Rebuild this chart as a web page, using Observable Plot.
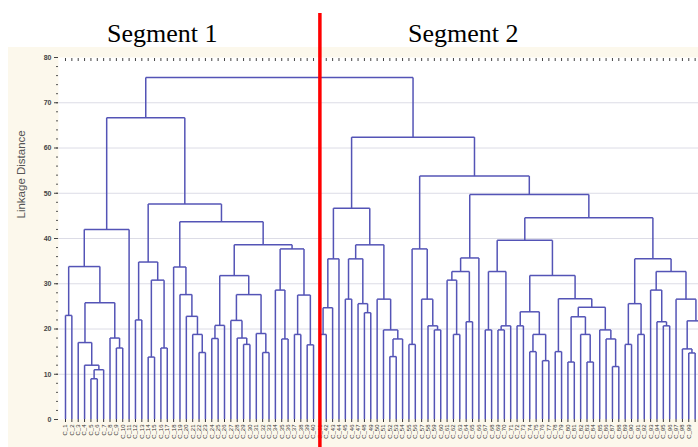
<!DOCTYPE html>
<html><head><meta charset="utf-8">
<script src="https://cdn.jsdelivr.net/npm/d3@7"></script>
<script src="https://cdn.jsdelivr.net/npm/@observablehq/plot@0.6"></script>
<style>
html,body{margin:0;padding:0;background:#fff;}
#wrap{position:relative;width:698px;height:447px;overflow:hidden;background:#fff;}
#cream{position:absolute;left:8px;top:47px;right:0;bottom:0;background:#fcf8ec;}
.seg{position:absolute;top:21px;font-family:"Liberation Serif","Times New Roman",serif;font-size:26px;color:#000;line-height:1;white-space:nowrap;}
#chart{position:absolute;left:0;top:0;}
</style></head>
<body>
<div id="wrap"><div id="cream"></div><div class="seg" id="s1" style="left:107px"></div><div class="seg" id="s2" style="left:408px"></div><div id="chart"></div></div>
<script>
// Segment titles
const segmentTitles = ["Segment 1", "Segment 2"];
const yLabel = "Linkage Distance";
const yTicks = [0, 10, 20, 30, 40, 50, 60, 70, 80];
const yMinorTicks = d3.range(0, 81, 2);

// Tree nodes: [linkage distance, left, right]; leaves are case numbers
const clusterA = [42, [33.8, [23, 1, 2], [25.8, [17, 3, [12, 4, [11, [9, 5, 6], 7]]], [18, 8, [15.8, 9, 10]]]], 11];
const clusterB = [34.8, [22, 12, 13], [30.8, [13.8, 14, 15], [15.8, 16, 17]]];
const clusterC = [33.7, 18, [27.6, 19, [22.8, 20, [18.8, 21, [14.8, 22, 23]]]]];
const clusterD = [31.8, [20.8, [17.9, 24, 25], 26], [27.6, [21.9, 27, [18, 28, [16.6, 29, 30]]], [19, 31, [14.8, 32, 33]]]];
const clusterE = [37.7, [28.6, 34, [17.8, 35, 36]], [27.5, [18.8, 37, 38], [16.5, 39, 40]]];
const clusterF = [35.5, [24.7, [18.8, 41, 42], 43], 44];
const clusterG = [35.5, [26.6, 45, 46], [25.6, 47, [23.6, 48, 49]]];
const clusterH = [26.6, 50, [19.8, 51, [17.8, [13.9, 52, 53], 54]]];
const clusterI = [37.7, [16.6, 55, 56], [26.6, 57, [20.7, 58, [19.8, 59, 60]]]];
const clusterJ = [35.7, [32.7, [30.8, 61, [18.8, 62, 63]], [21.6, 64, 65]], 66];
const clusterK = [32.7, [19.8, 67, 68], [20.7, [19.8, 69, 70], 71]];
const clusterL = [31.8, [23.8, [20.7, 72, 73], [18.8, [15, 74, 75], [13, 76, 77]]], [26.7, [15, 78, 79], [24.8, [22.7, [12.7, 80, 81], [18.8, 82, [12.7, 83, 84]]], [19.8, 85, [17.8, 86, [11.7, 87, 88]]]]]];
const clusterM = [35.5, [25.6, [16.6, 89, 90], [18.8, 91, 92]], [32.7, [28.6, 93, [21.6, 94, [20.7, 95, 96]]], [26.6, 97, [21.8, [15.6, 98, [14.7, 99, 100]], [18, 101, 102]]]]];

const segment1 = [66.7, clusterA, [47.6, clusterB, [43.7, clusterC, [38.6, clusterD, clusterE]]]];
const segment2 = [62.4, [46.7, clusterF, [38.6, clusterG, clusterH]], [53.8, clusterI, [49.7, clusterJ, [44.6, [39.6, clusterK, clusterL], clusterM]]]];
const root = [75.6, segment1, segment2];

document.getElementById("s1").textContent = segmentTitles[0];
document.getElementById("s2").textContent = segmentTitles[1];

// Layout the dendrogram: leaves in order, segments for each merge
const leaves = [];
const segs = [];
function layout(node) {
  if (!Array.isArray(node)) { const x = leaves.length; leaves.push(node); return {x, h: 0}; }
  const [h, a, b] = node;
  const A = layout(a), B = layout(b);
  segs.push({x1: A.x, y1: A.h, x2: A.x, y2: h});
  segs.push({x1: B.x, y1: B.h, x2: B.x, y2: h});
  segs.push({x1: A.x, y1: h, x2: B.x, y2: h});
  return {x: (A.x + B.x) / 2, h};
}
layout(root);
const seg1Count = (function count(n) { return Array.isArray(n) ? count(n[1]) + count(n[2]) : 1; })(segment1);
const xDomain = [-1.1, 99.53];
const leafIdx = leaves.map((d, i) => i).filter(i => i <= xDomain[1]);
const labelIdx = leafIdx.filter(i => i <= 98);
const leafLabel = i => "C_" + leaves[i];

const lineColor = "#5454b6";
const plot = Plot.plot({
  width: 698, height: 447,
  marginLeft: 58, marginRight: 0, marginTop: 57, marginBottom: 28,
  style: {background: "transparent", overflow: "visible", fontFamily: "Liberation Sans, Arial, sans-serif"},
  x: {domain: xDomain, axis: null},
  y: {domain: [0, 80], axis: null},
  marks: [
    Plot.frame({fill: "white", stroke: null}),
    Plot.gridY(yTicks.filter(d => d > 0 && d < 80), {stroke: "#dcdce6", strokeOpacity: 1}),
    Plot.link(segs, {x1: "x1", y1: "y1", x2: "x2", y2: "y2", stroke: lineColor, strokeWidth: 1.5, clip: true}),
    Plot.axisY({ticks: yMinorTicks, tickSize: 2, text: null, stroke: "#555"}),
    Plot.axisY({ticks: yTicks, tickSize: 4, tickPadding: 3, fontSize: 7, fontWeight: "bold", fill: "#444", stroke: "#444", label: null, line: true}),
    Plot.axisX({anchor: "top", ticks: leafIdx, tickSize: -3, text: null, stroke: "#444", line: true, label: null}),
    Plot.axisX({anchor: "bottom", ticks: leafIdx, tickSize: 3, text: null, stroke: "#333", line: true, label: null}),
    Plot.axisX({anchor: "bottom", ticks: labelIdx, tickSize: 0, tickFormat: leafLabel, tickRotate: -90, fontSize: 6, fill: "#333", label: null, tickPadding: 5}),
    Plot.text([yLabel], {frameAnchor: "left", rotate: -90, dx: -37, dy: -20, fontSize: 11.5, fill: "#555"}),
    Plot.ruleX([seg1Count], {stroke: "#ff0000", strokeWidth: 3.5, insetTop: -44, insetBottom: -30, clip: false})
  ]
});
document.getElementById("chart").appendChild(plot);
</script>
</body></html>
